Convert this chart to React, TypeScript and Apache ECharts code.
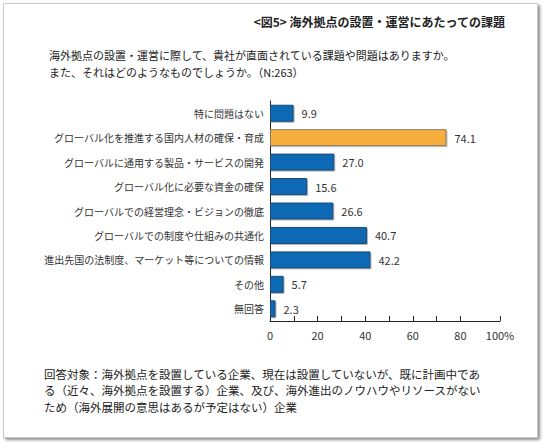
import React, { useEffect, useRef } from "react";
import * as echarts from "echarts";

// 課題の項目（上から順）
const categories = [
  "特に問題はない",
  "グローバル化を推進する国内人材の確保・育成",
  "グローバルに通用する製品・サービスの開発",
  "グローバル化に必要な資金の確保",
  "グローバルでの経営理念・ビジョンの徹底",
  "グローバルでの制度や仕組みの共通化",
  "進出先国の法制度、マーケット等についての情報",
  "その他",
  "無回答",
];

// 回答率（%）
const values = [9.9, 74.1, 27.0, 15.6, 26.6, 40.7, 42.2, 5.7, 2.3];

// 強調する項目
const highlightIndex = 1;

// 横軸の目盛りとラベル（軸の右端に「100%」を置く）
const AXIS_END = 96.6;
const tickValues = [0, 10, 20, 30, 40, 50, 60, 70, 80, AXIS_END];
const labelValues = [0, 20, 40, 60, 80, AXIS_END];
const tickLabels = ["0", "20", "40", "60", "80", "100%"];

const titleText = "<図5> 海外拠点の設置・運営にあたっての課題";
const questionLines = [
  "海外拠点の設置・運営に際して、貴社が直面されている課題や問題はありますか。",
  "また、それはどのようなものでしょうか。（N:263）",
];
const noteLines = [
  "回答対象：海外拠点を設置している企業、現在は設置していないが、既に計画中であ",
  "る（近々、海外拠点を設置する）企業、及び、海外進出のノウハウやリソースがない",
  "ため（海外展開の意思はあるが予定はない）企業",
];

const FONT = '"Noto Sans CJK JP", "Noto Sans", sans-serif';
const BLUE = "#0A69B4";
const BLUE_BORDER = "#1B4A78";
const ORANGE = "#F8AE3C";
const ORANGE_BORDER = "#8A7B60";

export default function App() {
  const ref = useRef<HTMLDivElement>(null);

  useEffect(() => {
    document.body.style.margin = "0";
    const chart = echarts.init(ref.current!, undefined, { renderer: "svg" });

    const textEl = (x: number, y: number, text: string, extra: any = {}) => ({
      type: "text",
      x,
      y,
      silent: true,
      style: {
        text,
        fill: "#222",
        font: `11px ${FONT}`,
        textVerticalAlign: "middle",
        ...extra,
      },
    });

    chart.setOption({
      animation: false,
      backgroundColor: "#ffffff",
      textStyle: { fontFamily: FONT },
      grid: { left: 270, top: 101, width: 230, height: 220 },
      xAxis: {
        type: "value",
        min: 0,
        max: AXIS_END,
        interval: 10,
        splitLine: { show: false },
        axisLine: { show: true, lineStyle: { color: "#222", width: 1 } },
        axisTick: {
          show: true,
          inside: true,
          length: 5,
          customValues: tickValues,
          lineStyle: { color: "#222" },
        },
        axisLabel: {
          customValues: labelValues,
          color: "#333",
          fontSize: 11,
          margin: 8,
          fontFamily: FONT,
          formatter: (v: number) => {
            const i = labelValues.indexOf(v);
            return i >= 0 ? tickLabels[i] : "";
          },
        },
      },
      yAxis: {
        type: "category",
        data: categories,
        inverse: true,
        axisLine: { show: true, lineStyle: { color: "#222", width: 1 } },
        axisTick: { show: false },
        axisLabel: { color: "#333", fontSize: 10, margin: 6, fontFamily: FONT },
      },
      series: [
        {
          type: "bar",
          barWidth: 17,
          data: values.map((v, i) => ({
            value: v,
            itemStyle:
              i === highlightIndex
                ? { color: ORANGE, borderColor: ORANGE_BORDER, borderWidth: 1 }
                : { color: BLUE, borderColor: BLUE_BORDER, borderWidth: 1 },
          })),
          itemStyle: {
            shadowColor: "rgba(0,0,0,0.3)",
            shadowBlur: 1,
            shadowOffsetX: 1,
            shadowOffsetY: 1,
          },
          label: {
            show: true,
            position: "right",
            distance: 8,
            color: "#333",
            fontSize: 11,
            fontFamily: FONT,
            formatter: (p: any) => Number(p.value).toFixed(1),
          },
        },
      ],
      graphic: [
        {
          type: "rect",
          z: -10,
          silent: true,
          shape: { x: 3.5, y: 3.5, width: 534, height: 434 },
          style: {
            fill: "#ffffff",
            stroke: "#c8c8c8",
            lineWidth: 1,
            shadowColor: "rgba(0,0,0,0.45)",
            shadowBlur: 3,
            shadowOffsetX: 2,
            shadowOffsetY: 2,
          },
        },
        textEl(505, 21, titleText, {
          font: `bold 12px ${FONT}`,
          textAlign: "right",
          fill: "#222",
        }),
        ...questionLines.map((t, i) => textEl(49, 54.5 + i * 17, t)),
        ...noteLines.map((t, i) => textEl(44, 373.5 + i * 16.7, t, { font: `11.5px ${FONT}` })),
      ],
    });

    return () => chart.dispose();
  }, []);

  return (
    <div
      ref={ref}
      style={{ position: "absolute", left: 0, top: 0, width: 544, height: 444 }}
    />
  );
}
